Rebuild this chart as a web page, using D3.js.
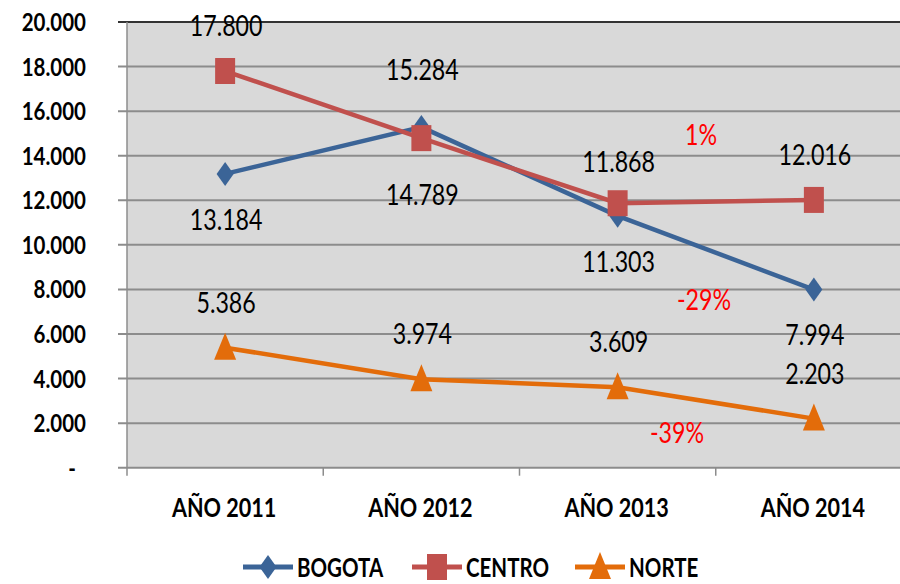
<!DOCTYPE html>
<html>
<head>
<meta charset="utf-8">
<script src="https://cdn.jsdelivr.net/npm/d3@7"></script>
<style>
    body { margin: 0; background: #fff; }
    text { font-family: Lato, "Liberation Sans", sans-serif; }
</style>
</head>
<body>
<script>
//categories and series values
var years = ["AÑO 2011", "AÑO 2012", "AÑO 2013", "AÑO 2014"];
var seriesNames = ["BOGOTA", "CENTRO", "NORTE"];
var bogota = [13184, 15284, 11303, 7994];
var centro = [17800, 14789, 11868, 12016];
var norte = [5386, 3974, 3609, 2203];
var yTicks = [0, 2000, 4000, 6000, 8000, 10000, 12000, 14000, 16000, 18000, 20000];

//label placement per point (pixels from the marker, negative = above)
var labelShift = {
    BOGOTA: [56, -47, 56, 55],
    CENTRO: [-35, 67, -31, -35],
    NORTE: [-35, -35, -35, -35]
};

//change 2013 -> 2014 labels, placed near each series
var changeLabels = [
    {series: "CENTRO", x: 701, y: 145},
    {series: "BOGOTA", x: 704, y: 310},
    {series: "NORTE", x: 677, y: 443}
];

window.onload = setChart();

//narrow text, like the original's squeezed font
function addText(sel, x, y, sx) {
    return sel.append("g")
        .attr("transform", "translate(" + x + "," + y + ") scale(" + (sx || 0.8) + ",1)")
        .append("text");
}

function setChart() {

    var width = 900,
        height = 584;

    var margin = {left: 127, top: 22, bottom: 467.7, right: 912};

    var svg = d3.select("body")
        .append("svg")
        .attr("width", width)
        .attr("height", height);

    var x = d3.scaleBand()
        .domain(years)
        .range([margin.left, margin.right])
        .padding(0);

    var y = d3.scaleLinear()
        .domain([0, 20000])
        .range([margin.bottom, margin.top]);

    var locale = d3.formatLocale({decimal: ",", thousands: ".", grouping: [3], currency: ["", ""]});
    var fmt = locale.format(",d");

    var colors = {BOGOTA: "#3B6497", CENTRO: "#C0504D", NORTE: "#E36C0A"};
    var series = [
        {name: "BOGOTA", values: bogota, marker: "diamond"},
        {name: "CENTRO", values: centro, marker: "square"},
        {name: "NORTE", values: norte, marker: "triangle"}
    ];

    //plot background
    svg.append("rect")
        .attr("x", margin.left)
        .attr("y", margin.top)
        .attr("width", margin.right - margin.left)
        .attr("height", margin.bottom - margin.top)
        .attr("fill", "#D9D9D9");

    //gridlines
    svg.selectAll(".grid")
        .data(yTicks.filter(function(d){ return d > 0; }))
        .enter()
        .append("line")
        .attr("class", "grid")
        .attr("x1", margin.left - 9)
        .attr("x2", margin.right)
        .attr("y1", function(d){ return y(d); })
        .attr("y2", function(d){ return y(d); })
        .attr("stroke", function(d){ return d === 20000 ? "#333" : "#8C8C8C"; })
        .attr("stroke-width", 2);

    //axes lines
    svg.append("line")
        .attr("x1", margin.left).attr("x2", margin.left)
        .attr("y1", margin.top).attr("y2", margin.bottom + 8)
        .attr("stroke", "#8C8C8C").attr("stroke-width", 1.5);
    svg.append("line")
        .attr("x1", margin.left - 9).attr("x2", margin.right)
        .attr("y1", margin.bottom).attr("y2", margin.bottom)
        .attr("stroke", "#8C8C8C").attr("stroke-width", 2);
    svg.selectAll(".xtick")
        .data(years)
        .enter()
        .append("line")
        .attr("x1", function(d){ return x(d) + x.bandwidth(); })
        .attr("x2", function(d){ return x(d) + x.bandwidth(); })
        .attr("y1", margin.bottom)
        .attr("y2", margin.bottom + 8)
        .attr("stroke", "#8C8C8C").attr("stroke-width", 1.5);

    //y tick labels
    yTicks.forEach(function(d){
        addText(svg, d === 0 ? 76 : 86, y(d) + 9, 0.82)
            .attr("text-anchor", "end")
            .attr("font-size", 25)
            .attr("font-weight", "bold")
            .attr("fill", "#000")
            .text(d === 0 ? "-" : fmt(d));
    });

    //x labels
    years.forEach(function(d){
        addText(svg, x(d) + x.bandwidth() / 2 - 1, 517, 0.8)
            .attr("text-anchor", "middle")
            .attr("font-size", 27)
            .attr("font-weight", "bold")
            .text(d);
    });

    var line = d3.line()
        .x(function(d, i){ return x(years[i]) + x.bandwidth() / 2; })
        .y(function(d){ return y(d); });

    var markerPath = {
        diamond: "M0,-12L8.5,0L0,12L-8.5,0Z",
        square: "M-10,-13H10V13H-10Z",
        triangle: "M0,-15L11,12H-11Z"
    };

    series.forEach(function(s){
        svg.append("path")
            .datum(s.values)
            .attr("d", line)
            .attr("fill", "none")
            .attr("stroke", colors[s.name])
            .attr("stroke-width", 4.5);

        svg.selectAll(".m-" + s.name)
            .data(s.values)
            .enter()
            .append("path")
            .attr("transform", function(d, i){
                return "translate(" + (x(years[i]) + x.bandwidth() / 2) + "," + y(d) + ")";
            })
            .attr("d", markerPath[s.marker])
            .attr("fill", colors[s.name]);
    });

    //data labels
    series.forEach(function(s){
        s.values.forEach(function(d, i){
            addText(svg, x(years[i]) + x.bandwidth() / 2 + 1, y(d) + labelShift[s.name][i], 0.8)
                .attr("text-anchor", "middle")
                .attr("font-size", 29)
                .attr("fill", "#000")
                .text(fmt(d));
        });
    });

    //percent change labels
    var pct = d3.format(".0%");
    changeLabels.forEach(function(d){
        var v = series.filter(function(s){ return s.name === d.series; })[0].values;
        addText(svg, d.x, d.y, 0.8)
            .attr("text-anchor", "middle")
            .attr("font-size", 29)
            .attr("fill", "#FF0000")
            .text(pct(v[3] / v[2] - 1).replace("−", "-"));
    });

    //legend
    var legendX = [243, 412, 575];
    series.forEach(function(d, i){
        var g = svg.append("g")
            .attr("transform", "translate(" + legendX[i] + ",567)");
        g.append("line")
            .attr("x1", 0).attr("x2", 50)
            .attr("stroke", colors[d.name])
            .attr("stroke-width", 5);
        g.append("path")
            .attr("transform", "translate(25,0)")
            .attr("d", markerPath[d.marker])
            .attr("fill", colors[d.name]);
        addText(g, 54, 10, 0.76)
            .attr("font-size", 27)
            .attr("font-weight", "bold")
            .text(d.name);
    });
}
</script>
</body>
</html>
